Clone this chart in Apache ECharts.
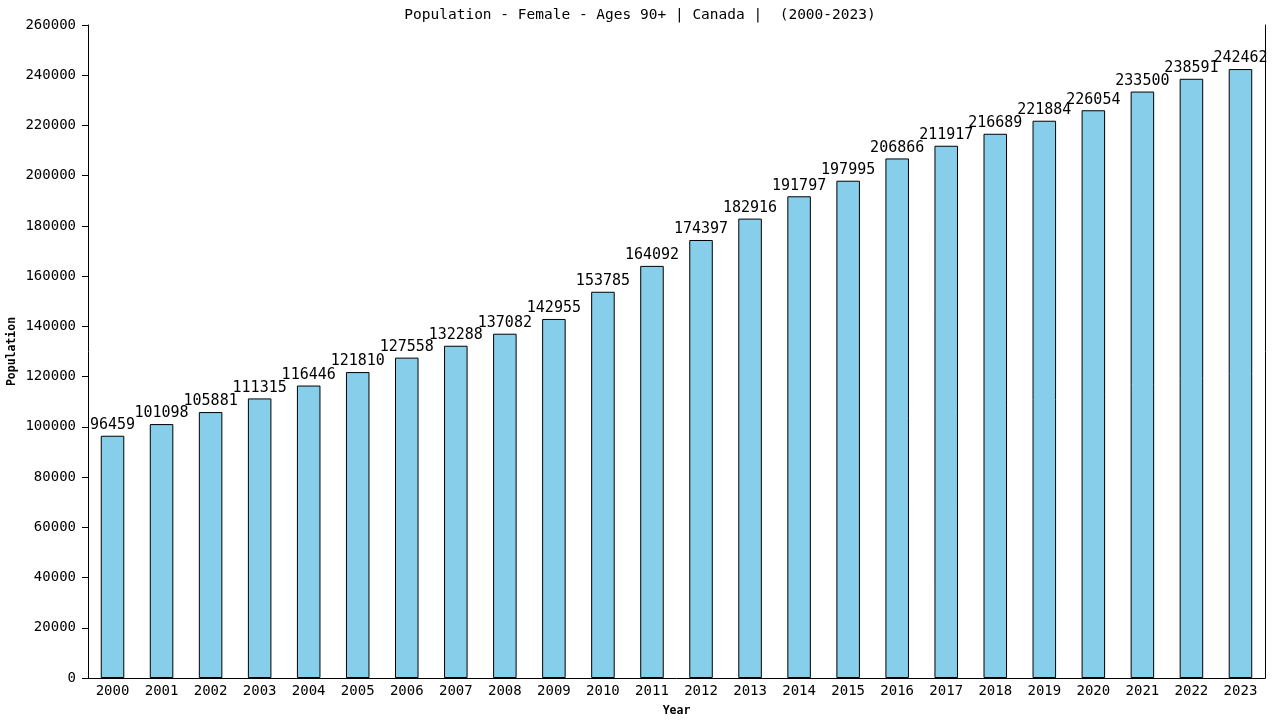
<!DOCTYPE html>
<html><head><meta charset="utf-8">
<script src="https://cdn.jsdelivr.net/npm/echarts@6/dist/echarts.min.js"></script>
<style>html,body{margin:0;padding:0;background:#fff}#c{width:1280px;height:720px}</style>
</head><body><div id="c"></div>
<script>
const years = ['2000','2001','2002','2003','2004','2005','2006','2007','2008','2009','2010','2011','2012','2013','2014','2015','2016','2017','2018','2019','2020','2021','2022','2023'];
const population = [96459,101098,105881,111315,116446,121810,127558,132288,137082,142955,153785,164092,174397,182916,191797,197995,206866,211917,216689,221884,226054,233500,238591,242462];
const font = 'DejaVu Sans Mono';
const chart = echarts.init(document.getElementById('c'));
chart.setOption({
  animation: false,
  title: {text: 'Population - Female - Ages 90+ | Canada |  (2000-2023)', left: 'center', top: 3,
    textStyle: {fontFamily: font, fontSize: 14.5, fontWeight: 'normal', color: '#000'}},
  grid: {left: 88, right: 15, top: 25, bottom: 42, containLabel: false, outerBoundsMode: 'none'},
  xAxis: {type: 'category', data: years, name: 'Year', nameLocation: 'middle', nameGap: 27,
    nameTextStyle: {fontFamily: font, fontSize: 11.5, fontWeight: 'bold', color: '#000'},
    axisLine: {lineStyle: {color: '#000', width: 1}}, axisTick: {show: false},
    axisLabel: {fontFamily: font, fontSize: 14, color: '#000', margin: 6}},
  yAxis: [{type: 'value', min: 0, max: 260000, interval: 20000, name: 'Population', nameLocation: 'middle', nameGap: 70,
    nameMoveOverlap: false,
    nameTextStyle: {fontFamily: font, fontSize: 11.5, fontWeight: 'bold', color: '#000'},
    axisLine: {show: true, lineStyle: {color: '#000'}}, axisTick: {show: true, length: 6, lineStyle: {color: '#000'}},
    splitLine: {show: false}, axisLabel: {fontFamily: font, fontSize: 14, color: '#000', margin: 12, formatter: v => String(v)}},
    {type: 'value', min: 0, max: 260000, position: 'right', axisLine: {show: true, lineStyle: {color: '#000'}},
    axisTick: {show: false}, axisLabel: {show: false}, splitLine: {show: false}}],
  series: [{type: 'bar', data: population, barWidth: '48%',
    itemStyle: {color: '#87CEEB', borderColor: '#000', borderWidth: 1},
    label: {show: true, position: 'top', distance: 3, fontFamily: font, fontSize: 15, color: '#000'}}]
});
</script></body></html>
